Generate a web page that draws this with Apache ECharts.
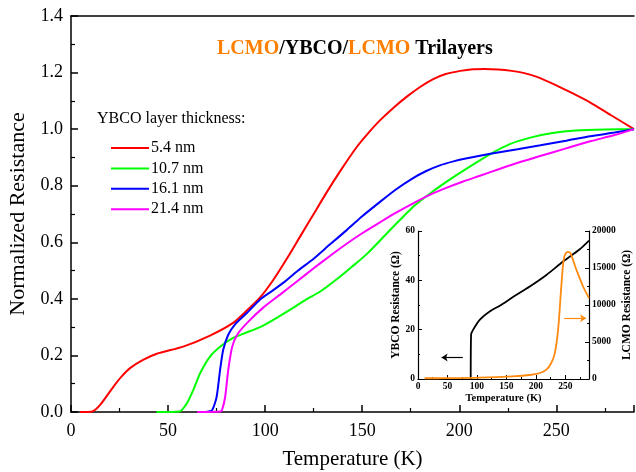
<!DOCTYPE html>
<html>
<head>
<meta charset="utf-8">
<script src="https://cdn.jsdelivr.net/npm/echarts@6/dist/echarts.min.js"></script>
<style>html,body{margin:0;padding:0;background:#fff}#c{width:636px;height:472px}</style>
</head>
<body>
<div id="c"></div>
<script>
// ---- Main chart data (Temperature K, normalized resistance) ----
const t54 = [4.6, 11, 15, 21.8, 26, 30.4, 37.1, 44.2, 57.8, 71.6, 83.5, 90, 97.4, 104, 111, 118, 125, 132, 139, 147, 153, 159, 166, 173, 180, 186.6, 193, 200.5, 207, 213, 220, 227, 233, 240, 250, 258, 267.5, 278, 290];
const r54 = [0, 0.002, 0.025, 0.089, 0.125, 0.155, 0.184, 0.206, 0.231, 0.27, 0.315, 0.355, 0.405, 0.465, 0.54, 0.62, 0.70, 0.78, 0.855, 0.935, 0.985, 1.03, 1.075, 1.115, 1.15, 1.177, 1.195, 1.206, 1.212, 1.213, 1.211, 1.206, 1.199, 1.185, 1.155, 1.128, 1.094, 1.05, 1.0];

const t107 = [44, 56, 59.8, 63, 66.5, 71.6, 76.8, 83.5, 90, 97.4, 106, 114.4, 121, 128.4, 138.7, 145, 152.6, 162.9, 170, 177, 186, 196, 205, 216, 226, 236.6, 248, 260, 275, 290];
const r107 = [0, 0.002, 0.032, 0.078, 0.137, 0.196, 0.231, 0.262, 0.28, 0.30, 0.333, 0.368, 0.397, 0.426, 0.479, 0.515, 0.56, 0.633, 0.683, 0.73, 0.778, 0.826, 0.866, 0.912, 0.947, 0.970, 0.986, 0.995, 0.999, 1.0];

const t161 = [69, 72.7, 75, 76.8, 78.4, 81, 84.5, 90.6, 97.4, 104, 110, 117, 125, 133, 142, 150, 159, 167, 176, 183, 190, 197, 204, 216, 230, 241.8, 255, 267.5, 280, 290];
const r161 = [0, 0.007, 0.053, 0.149, 0.22, 0.273, 0.31, 0.35, 0.398, 0.43, 0.46, 0.50, 0.542, 0.59, 0.643, 0.692, 0.742, 0.785, 0.826, 0.852, 0.872, 0.886, 0.897, 0.913, 0.929, 0.943, 0.959, 0.975, 0.988, 1.0];

const t214 = [65, 77, 77.8, 79.4, 81, 83, 85.6, 90.7, 99, 107.7, 117, 125, 133, 142, 150, 159, 167, 176, 184, 193.6, 202, 211, 221, 231, 241.7, 255, 267.5, 280, 290];
const r214 = [0, 0.002, 0.007, 0.053, 0.149, 0.23, 0.273, 0.315, 0.369, 0.415, 0.465, 0.508, 0.55, 0.595, 0.632, 0.67, 0.703, 0.737, 0.765, 0.793, 0.815, 0.836, 0.86, 0.883, 0.905, 0.932, 0.957, 0.979, 1.0];

const seriesNames = ['5.4 nm', '10.7 nm', '16.1 nm', '21.4 nm'];
const seriesColors = ['#ff0000', '#00ff00', '#0000ff', '#ff00ff'];

// ---- Inset data ----
const tYBCO = [89.4, 90, 93.3, 104.6, 121.6, 138.6, 161, 189.5, 217.8, 246, 274.3, 290];
const rYBCO = [0, 17.9, 19.9, 24, 27.4, 29.7, 33.2, 37.5, 42.2, 47.6, 52.6, 56.1];

const tLCMO = [11.3, 48, 104.6, 161, 189.5, 206.4, 217.8, 226, 232, 237.6, 243, 247, 250.6, 254.5, 258.5, 268.7, 280, 290];
const rLCMO = [100, 110, 180, 360, 540, 810, 1260, 2160, 3500, 6650, 12500, 16090, 17000, 17170, 17000, 14740, 12500, 10920];

const arrowYBCO = [[76, 8.7], [40, 8.7]];
const arrowLCMO = [[248, 8200], [285, 8200]];

// ---- Ticks ----
const mainXTicks = {min: 0, max: 290, interval: 50};
const mainYTicks = {min: 0, max: 1.4, interval: 0.2};
const insetYLeft = {min: 0, max: 60, interval: 20};
const insetYRight = {min: 0, max: 20000, interval: 5000};

const zip = (a, b) => a.map((v, i) => [v, b[i]]);
const FONT = 'Liberation Serif';
const chart = echarts.init(document.getElementById('c'), null, {renderer: 'canvas'});

const mainSeries = [[t54, r54], [t107, r107], [t161, r161], [t214, r214]].map((d, i) => ({
  name: seriesNames[i], type: 'line', xAxisIndex: 0, yAxisIndex: 0,
  data: zip(d[0], d[1]), symbol: 'none', smooth: 0.2,
  color: seriesColors[i],
  lineStyle: {color: seriesColors[i], width: 2}
}));

const axisLineStyle = {color: '#000', width: 1.5};

const option = {
  animation: false,
  backgroundColor: '#fff',
  title: [
    {
      text: '{o|LCMO}{k|/YBCO/}{o|LCMO}{k| Trilayers}',
      left: 217, top: 39, padding: 0,
      textStyle: {
        rich: {
          o: {color: '#ff8000', fontFamily: FONT, fontWeight: 'bold', fontSize: 20},
          k: {color: '#000', fontFamily: FONT, fontWeight: 'bold', fontSize: 20}
        }
      }
    },
    {
      text: 'YBCO layer thickness:', left: 97, top: 111, padding: 0,
      textStyle: {color: '#000', fontFamily: FONT, fontWeight: 'normal', fontSize: 16}
    }
  ],
  legend: {
    data: seriesNames, orient: 'vertical', left: 111, top: 139, padding: 0,
    icon: 'rect', itemWidth: 38, itemHeight: 2, itemGap: 2.4,
    textStyle: {color: '#000', fontFamily: FONT, fontSize: 16, lineHeight: 18, padding: [0, 0, 0, -3]}
  },
  grid: [
    {left: 71, right: 2, top: 16, bottom: 60, containLabel: false, outerBoundsMode: 'none'},
    {left: 418, right: 47, top: 231, bottom: 93, containLabel: false, outerBoundsMode: 'none'}
  ],
  xAxis: [
    {
      type: 'value', gridIndex: 0, min: mainXTicks.min, max: mainXTicks.max, interval: mainXTicks.interval,
      axisLine: {show: true, lineStyle: axisLineStyle},
      axisTick: {show: true, inside: true, length: 7, lineStyle: axisLineStyle},
      minorTick: {show: true, splitNumber: 2, length: 4, lineStyle: {color: '#000', width: 1.2}},
      splitLine: {show: false},
      axisLabel: {color: '#000', fontFamily: FONT, fontSize: 18, margin: 10, showMaxLabel: false},
      name: 'Temperature (K)', nameLocation: 'middle', nameGap: 37,
      nameTextStyle: {color: '#000', fontFamily: FONT, fontSize: 21}
    },
    {
      type: 'value', gridIndex: 0, position: 'top', min: mainXTicks.min, max: mainXTicks.max,
      axisLine: {show: true, lineStyle: axisLineStyle},
      axisTick: {show: false}, axisLabel: {show: false}, splitLine: {show: false}
    },
    {
      type: 'value', gridIndex: 1, min: 0, max: 290, interval: 50,
      axisLine: {show: true, lineStyle: {color: '#000', width: 1.2}},
      axisTick: {show: true, inside: true, length: 4, lineStyle: {color: '#000', width: 1}},
      minorTick: {show: true, splitNumber: 2, length: 2, lineStyle: {color: '#000', width: 1}},
      splitLine: {show: false},
      axisLabel: {color: '#000', fontFamily: FONT, fontWeight: 'bold', fontSize: 9.5, margin: 3, showMaxLabel: false},
      name: 'Temperature (K)', nameLocation: 'middle', nameGap: 14,
      nameTextStyle: {color: '#000', fontFamily: FONT, fontWeight: 'bold', fontSize: 10.5}
    }
  ],
  yAxis: [
    {
      type: 'value', gridIndex: 0, min: mainYTicks.min, max: mainYTicks.max, interval: mainYTicks.interval,
      axisLine: {show: true, lineStyle: axisLineStyle},
      axisTick: {show: true, inside: true, length: 7, lineStyle: axisLineStyle},
      minorTick: {show: true, splitNumber: 2, length: 4, lineStyle: {color: '#000', width: 1.2}},
      splitLine: {show: false},
      axisLabel: {color: '#000', fontFamily: FONT, fontSize: 18, margin: 8, formatter: v => v.toFixed(1)},
      name: 'Normalized Resistance', nameLocation: 'middle', nameGap: 37,
      nameTextStyle: {color: '#000', fontFamily: FONT, fontSize: 22}
    },
    {
      type: 'value', gridIndex: 1, min: insetYLeft.min, max: insetYLeft.max, interval: insetYLeft.interval,
      axisLine: {show: true, lineStyle: {color: '#000', width: 1.2}},
      axisTick: {show: true, inside: true, length: 4, lineStyle: {color: '#000', width: 1}},
      minorTick: {show: true, splitNumber: 2, length: 2, lineStyle: {color: '#000', width: 1}},
      splitLine: {show: false},
      axisLabel: {color: '#000', fontFamily: FONT, fontWeight: 'bold', fontSize: 9.5, margin: 3},
      name: 'YBCO Resistance (Ω)', nameLocation: 'middle', nameGap: 16,
      nameTextStyle: {color: '#000', fontFamily: FONT, fontWeight: 'bold', fontSize: 11.5}
    },
    {
      type: 'value', gridIndex: 1, position: 'right', min: insetYRight.min, max: insetYRight.max, interval: insetYRight.interval,
      axisLine: {show: true, lineStyle: {color: '#000', width: 1.2}},
      axisTick: {show: true, inside: true, length: 4, lineStyle: {color: '#000', width: 1}},
      minorTick: {show: true, splitNumber: 2, length: 2, lineStyle: {color: '#000', width: 1}},
      splitLine: {show: false},
      axisLabel: {color: '#000', fontFamily: FONT, fontWeight: 'bold', fontSize: 9.5, margin: 3, formatter: v => String(v)},
      name: 'LCMO Resistance (Ω)', nameLocation: 'middle', nameGap: 32,
      nameTextStyle: {color: '#000', fontFamily: FONT, fontWeight: 'bold', fontSize: 11.5}
    }
  ],
  series: mainSeries.concat([
    {
      name: 'YBCO', type: 'line', xAxisIndex: 2, yAxisIndex: 1,
      data: zip(tYBCO, rYBCO), symbol: 'none', smooth: 0.3,
      lineStyle: {color: '#000', width: 1.8}, color: '#000',
      markLine: {
        silent: true, symbol: ['none', 'arrow'], symbolSize: 6,
        label: {show: false},
        lineStyle: {color: '#000', type: 'solid', width: 1.2},
        data: [[{coord: arrowYBCO[0]}, {coord: arrowYBCO[1]}]]
      }
    },
    {
      name: 'LCMO', type: 'line', xAxisIndex: 2, yAxisIndex: 2,
      data: zip(tLCMO, rLCMO), symbol: 'none', smooth: 0.3,
      lineStyle: {color: '#ff8a10', width: 1.8}, color: '#ff8a10',
      markLine: {
        silent: true, symbol: ['none', 'arrow'], symbolSize: 6,
        label: {show: false},
        lineStyle: {color: '#ff8a10', type: 'solid', width: 1.2},
        data: [[{coord: arrowLCMO[0]}, {coord: arrowLCMO[1]}]]
      }
    }
  ])
};
chart.setOption(option);
</script>
</body>
</html>
